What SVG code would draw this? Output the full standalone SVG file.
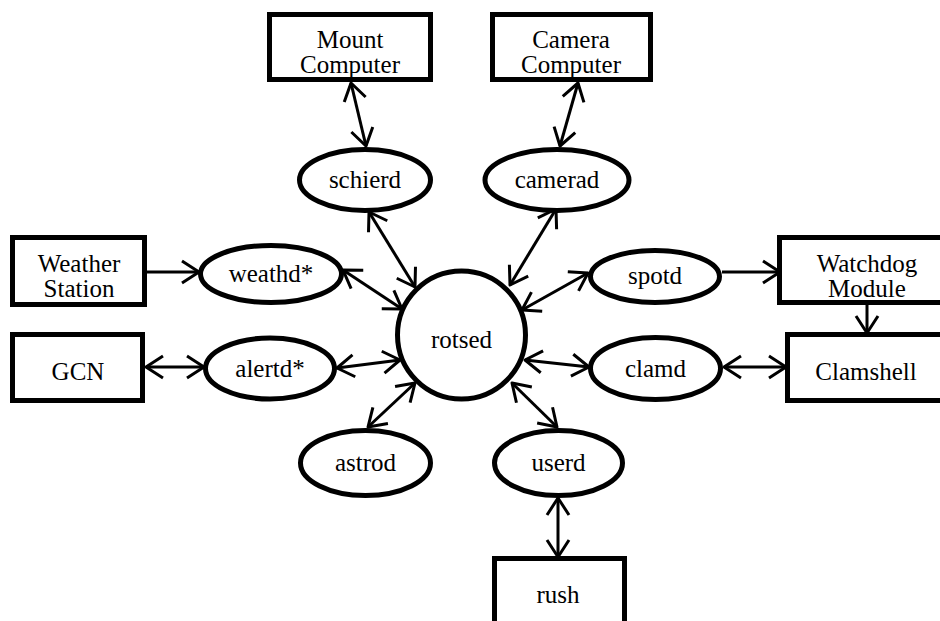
<svg xmlns="http://www.w3.org/2000/svg" width="940" height="621" viewBox="0 0 940 621">
<style>
.box{fill:#fff;stroke:#000;stroke-width:5}
.ell{fill:#fff;stroke:#000;stroke-width:5}
.t{font-family:"Liberation Serif","Times New Roman",serif;font-size:25px;fill:#000;text-anchor:middle}
.c line{stroke:#000;stroke-width:3}
</style>
<defs>
<marker id="ah" viewBox="0 0 22 26" refX="19" refY="13" markerWidth="22" markerHeight="26" markerUnits="userSpaceOnUse" orient="auto-start-reverse">
<path d="M2,2 L19,13 L2,24" fill="none" stroke="#000" stroke-width="3" stroke-linejoin="round"/>
</marker>
</defs>
<rect width="940" height="621" fill="#fff"/>
<g class="c" id="connectors">
<line x1="351" y1="83" x2="366" y2="146" marker-start="url(#ah)" marker-end="url(#ah)"/>
<line x1="578" y1="83" x2="560" y2="146" marker-start="url(#ah)" marker-end="url(#ah)"/>
<line x1="369" y1="212" x2="415" y2="287" marker-start="url(#ah)" marker-end="url(#ah)"/>
<line x1="556" y1="209" x2="510" y2="285" marker-start="url(#ah)" marker-end="url(#ah)"/>
<line x1="343" y1="270" x2="402" y2="309" marker-start="url(#ah)" marker-end="url(#ah)"/>
<line x1="337" y1="368" x2="400" y2="360" marker-start="url(#ah)" marker-end="url(#ah)"/>
<line x1="415" y1="383" x2="368" y2="427" marker-start="url(#ah)" marker-end="url(#ah)"/>
<line x1="512" y1="383" x2="557" y2="427" marker-start="url(#ah)" marker-end="url(#ah)"/>
<line x1="522" y1="310" x2="588" y2="273" marker-start="url(#ah)" marker-end="url(#ah)"/>
<line x1="525" y1="360" x2="589" y2="367" marker-start="url(#ah)" marker-end="url(#ah)"/>
<line x1="722" y1="272" x2="780" y2="272" marker-end="url(#ah)"/>
<line x1="867" y1="305" x2="867" y2="333" marker-end="url(#ah)"/>
<line x1="724" y1="367" x2="786" y2="367" marker-start="url(#ah)" marker-end="url(#ah)"/>
<line x1="147" y1="272" x2="199" y2="272" marker-end="url(#ah)"/>
<line x1="146" y1="367" x2="204" y2="367" marker-start="url(#ah)" marker-end="url(#ah)"/>
<line x1="558" y1="498" x2="558" y2="557" marker-start="url(#ah)" marker-end="url(#ah)"/>
</g>
<g id="mount"><rect class="box" x="269.5" y="14.5" width="161" height="65"/><text class="t" x="350" y="48">Mount</text><text class="t" x="350" y="73">Computer</text></g>
<g id="camera"><rect class="box" x="492.5" y="14.5" width="158" height="65"/><text class="t" x="571" y="48">Camera</text><text class="t" x="571" y="73">Computer</text></g>
<g id="weather"><rect class="box" x="12.5" y="237.5" width="132" height="67"/><text class="t" x="79" y="272">Weather</text><text class="t" x="79" y="297">Station</text></g>
<g id="gcn"><rect class="box" x="12.5" y="334.5" width="130" height="66"/><text class="t" x="78" y="380">GCN</text></g>
<g id="watchdog"><rect class="box" x="779.5" y="237.5" width="180" height="65"/><text class="t" x="867" y="272">Watchdog</text><text class="t" x="867" y="297">Module</text></g>
<g id="clamshell"><rect class="box" x="787.5" y="334.5" width="180" height="66"/><text class="t" x="866" y="380">Clamshell</text></g>
<g id="rush"><rect class="box" x="494.5" y="558.5" width="130" height="80"/><text class="t" x="558" y="603">rush</text></g>
<g id="schierd"><ellipse class="ell" cx="365" cy="180" rx="65.5" ry="30.5"/><text class="t" x="365" y="188">schierd</text></g>
<g id="camerad"><ellipse class="ell" cx="557" cy="180" rx="72" ry="30.5"/><text class="t" x="557" y="188">camerad</text></g>
<g id="weathd"><ellipse class="ell" cx="271" cy="274" rx="70.5" ry="28.5"/><text class="t" x="271" y="282">weathd*</text></g>
<g id="alertd"><ellipse class="ell" cx="270" cy="368.5" rx="64.5" ry="30.5"/><text class="t" x="270" y="377">alertd*</text></g>
<g id="spotd"><ellipse class="ell" cx="655" cy="276.5" rx="64.5" ry="26"/><text class="t" x="655" y="284">spotd</text></g>
<g id="clamd"><ellipse class="ell" cx="655.5" cy="368.5" rx="65" ry="31"/><text class="t" x="655.5" y="377">clamd</text></g>
<g id="astrod"><ellipse class="ell" cx="365.5" cy="463" rx="65" ry="32.5"/><text class="t" x="365.5" y="471">astrod</text></g>
<g id="userd"><ellipse class="ell" cx="558.5" cy="463" rx="64" ry="32.5"/><text class="t" x="558.5" y="471">userd</text></g>
<g id="rotsed"><circle class="ell" cx="461.5" cy="335" r="64"/><text class="t" x="461.5" y="348">rotsed</text></g>
</svg>
